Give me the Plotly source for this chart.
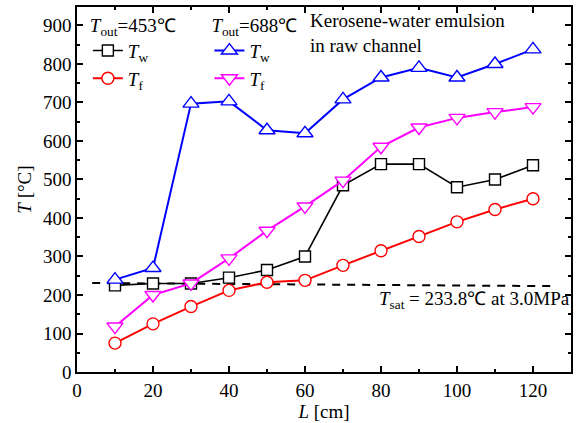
import plotly.graph_objects as go

L = [10, 20, 30, 40, 50, 60, 70, 80, 90, 100, 110, 120]
tw_453 = [225, 230, 230, 245, 265, 300, 485, 540, 540, 480, 500, 537]
tf_453 = [75, 125, 170, 212, 233, 238, 277, 315, 352, 390, 422, 450]
tw_688 = [240, 270, 697, 703, 628, 620, 708, 765, 790, 765, 800, 838]
tf_688 = [118, 200, 230, 295, 367, 430, 497, 585, 635, 660, 675, 688]
sat_L = [4, 126]
sat_T = [231, 223]

FONT = "Liberation Serif, Times New Roman, serif"

fig = go.Figure()

fig.add_trace(go.Scatter(x=sat_L, y=sat_T, mode="lines", showlegend=False,
                         line=dict(color="black", width=2, dash="8px,7px")))

def add(y, color, sym, name, legend, group, lw=2, size=12):
    fig.add_trace(go.Scatter(
        x=L, y=y, mode="lines+markers", name=name, legend=legend, legendgroup=group,
        line=dict(color=color, width=lw),
        marker=dict(symbol=sym, size=size, color="white",
                    line=dict(color=color, width=1.4))))

add(tw_453, "black", "square", "<i>T</i><sub>w</sub>", "legend", "a", lw=1.6, size=11)
add(tf_453, "#ff0000", "circle", "<i>T</i><sub>f</sub>", "legend", "b", size=12)
add(tw_688, "#0000ff", "triangle-up", "<i>T</i><sub>w</sub>", "legend2", "c", size=14)
add(tf_688, "#ff00ff", "triangle-down", "<i>T</i><sub>f</sub>", "legend2", "d", size=14)

axis_common = dict(
    showline=True, linecolor="black", linewidth=1.5, mirror="allticks",
    ticks="inside", ticklen=6, tickwidth=1.5, tickcolor="black",
    showgrid=False, zeroline=False,
    tickfont=dict(family=FONT, size=19, color="black"),
)

fig.update_xaxes(range=[0, 130], dtick=20, tick0=0,
                 minor=dict(dtick=10, ticks="inside", ticklen=3, tickwidth=1.5, tickcolor="black"),
                 title=dict(text="<i>L</i> [cm]", font=dict(family=FONT, size=19, color="black"), standoff=0),
                 **axis_common)
fig.update_yaxes(range=[0, 948], dtick=100, tick0=0,
                 minor=dict(dtick=50, ticks="inside", ticklen=3, tickwidth=1.5, tickcolor="black"),
                 title=dict(text="<i>T</i> [°C]", font=dict(family=FONT, size=19, color="black"), standoff=6),
                 **axis_common)

legend_common = dict(
    bgcolor="rgba(0,0,0,0)", borderwidth=0,
    font=dict(family=FONT, size=19, color="black"),
    xanchor="left", yanchor="top", itemwidth=30, tracegroupgap=0,
)

fig.update_layout(
    width=578, height=423,
    margin=dict(l=77, r=5, t=5, b=51),
    paper_bgcolor="white", plot_bgcolor="white",
    font=dict(family=FONT, size=19, color="black"),
    legend=dict(x=0.022, y=1.0,
                title=dict(text="<i>T</i><sub>out</sub>=453℃", font=dict(family=FONT, size=19)),
                **legend_common),
    legend2=dict(x=0.268, y=1.0,
                 title=dict(text="<i>T</i><sub>out</sub>=688℃", font=dict(family=FONT, size=19)),
                 **legend_common),
    annotations=[
        dict(text="Kerosene-water emulsion<br>in raw channel", x=0.468, y=0.997,
             xref="paper", yref="paper", xanchor="left", yanchor="top", align="left",
             showarrow=False, font=dict(family=FONT, size=19, color="black")),
        dict(text="<i>T</i><sub>sat</sub> = 233.8℃ at 3.0MPa", x=1.003, y=0.196,
             xref="paper", yref="paper", xanchor="right", yanchor="middle",
             showarrow=False, font=dict(family=FONT, size=19, color="black")),
    ],
)

fig.write_html("out.html", config={"displayModeBar": False},
               post_script="document.body.style.margin='0';document.body.style.padding='0';")
